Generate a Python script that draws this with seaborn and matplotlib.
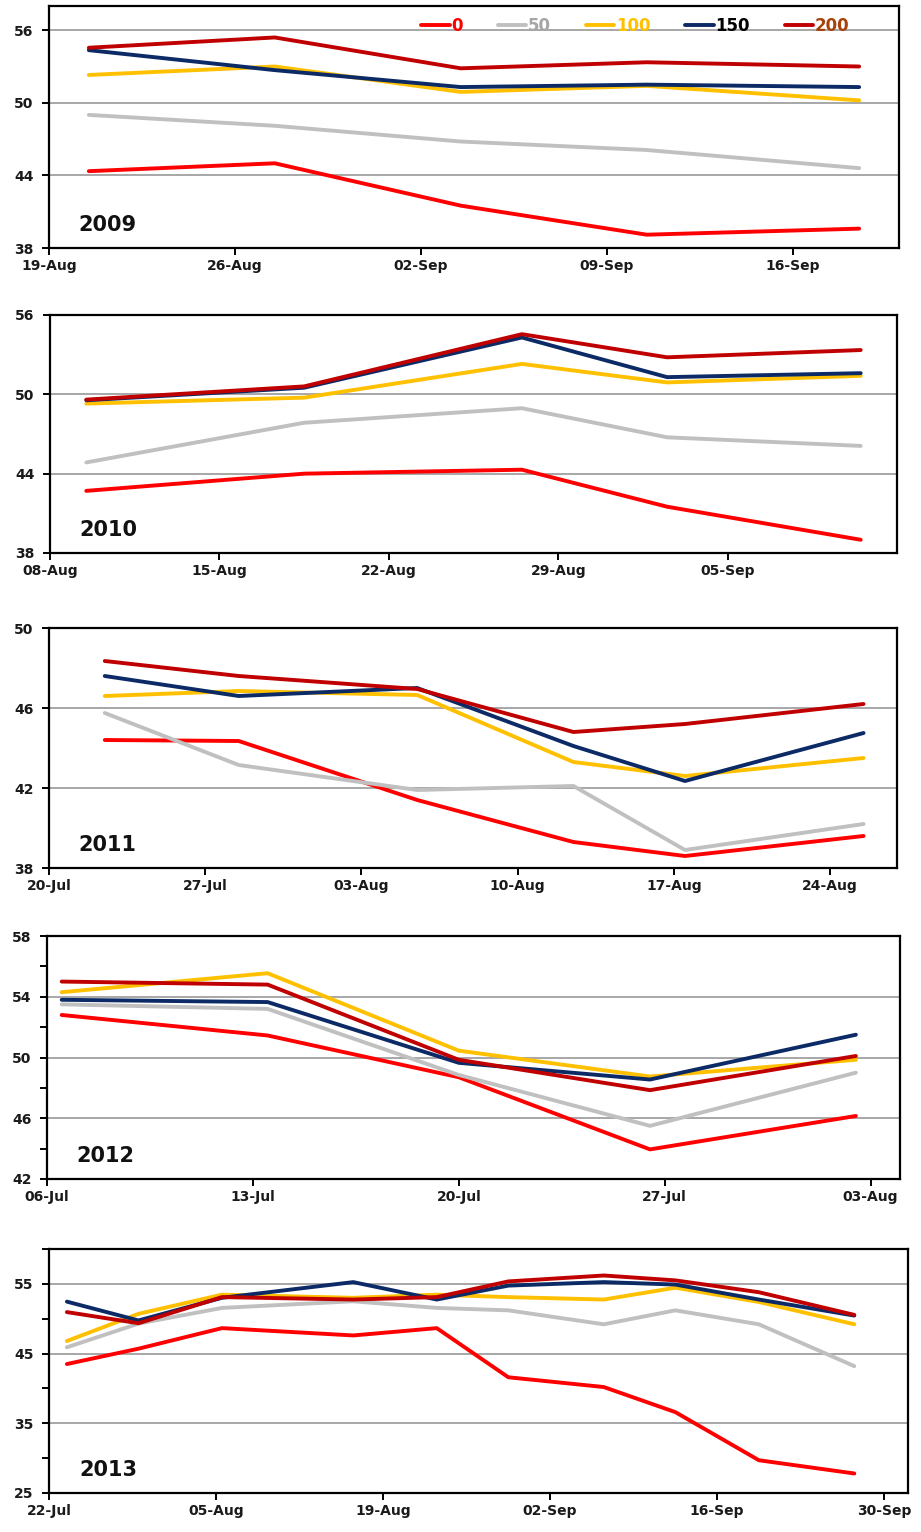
import matplotlib
matplotlib.use("Agg")
import matplotlib.pyplot as plt
import matplotlib.dates as mdates
import seaborn as sns
import pandas as pd
import numpy as np

# ---------------- data ----------------
series_names = ["0", "50", "100", "150", "200"]
line_colors = ["#FF0000", "#C0C0C0", "#FFC000", "#0B2A66", "#C00000"]
legend_text_colors = ["#FF0000", "#A6A6A6", "#FFC000", "#000000", "#A5430A"]

dates_2009 = ["2009-08-20", "2009-08-27", "2009-09-03", "2009-09-10", "2009-09-18"]
s2009_0 = [44.35, 45.0, 41.5, 39.1, 39.6]
s2009_50 = [49.0, 48.1, 46.8, 46.1, 44.6]
s2009_100 = [52.3, 53.0, 50.9, 51.4, 50.2]
s2009_150 = [54.35, 52.7, 51.3, 51.5, 51.3]
s2009_200 = [54.55, 55.4, 52.85, 53.35, 53.0]

dates_2010 = ["2010-08-09", "2010-08-18", "2010-08-27", "2010-09-02", "2010-09-10"]
s2010_0 = [42.7, 44.0, 44.3, 41.5, 39.0]
s2010_50 = [44.85, 47.85, 48.95, 46.75, 46.1]
s2010_100 = [49.3, 49.75, 52.3, 50.9, 51.4]
s2010_150 = [49.55, 50.5, 54.3, 51.3, 51.6]
s2010_200 = [49.6, 50.6, 54.55, 52.8, 53.35]

dates_2011 = ["2011-07-22", "2011-07-28", "2011-08-05", "2011-08-12", "2011-08-17", "2011-08-25"]
s2011_0 = [44.4, 44.35, 41.4, 39.3, 38.6, 39.6]
s2011_50 = [45.75, 43.15, 41.9, 42.1, 38.9, 40.2]
s2011_100 = [46.6, 46.85, 46.65, 43.3, 42.6, 43.5]
s2011_150 = [47.6, 46.6, 47.0, 44.1, 42.35, 44.75]
s2011_200 = [48.35, 47.6, 46.95, 44.8, 45.2, 46.2]

dates_2012 = ["2012-07-06", "2012-07-13", "2012-07-19 12:00", "2012-07-26", "2012-08-02"]
s2012_0 = [52.8, 51.45, 48.7, 43.95, 46.15]
s2012_50 = [53.5, 53.2, 48.85, 45.5, 49.0]
s2012_100 = [54.3, 55.55, 50.45, 48.75, 49.85]
s2012_150 = [53.8, 53.65, 49.65, 48.55, 51.5]
s2012_200 = [55.0, 54.8, 49.85, 47.85, 50.1]

dates_2013 = ["2013-07-23", "2013-07-29", "2013-08-05", "2013-08-16", "2013-08-23",
              "2013-08-29", "2013-09-06", "2013-09-12", "2013-09-19", "2013-09-27"]
s2013_0 = [43.5, 45.7, 48.65, 47.6, 48.65, 41.6, 40.2, 36.6, 29.7, 27.8]
s2013_50 = [45.9, 49.3, 51.55, 52.5, 51.55, 51.2, 49.2, 51.2, 49.2, 43.2]
s2013_100 = [46.8, 50.7, 53.45, 53.0, 53.45, 53.1, 52.75, 54.45, 52.4, 49.2]
s2013_150 = [52.45, 49.75, 53.0, 55.25, 52.75, 54.75, 55.25, 54.9, 52.75, 50.45]
s2013_200 = [50.95, 49.35, 53.1, 52.75, 53.1, 55.35, 56.2, 55.5, 53.8, 50.55]

years = ["2009", "2010", "2011", "2012", "2013"]
x_start = ["2009-08-19", "2010-08-08", "2011-07-20", "2012-07-06", "2013-07-22"]
x_end = ["2009-09-20", "2010-09-12", "2011-08-27", "2012-08-04", "2013-10-02"]
x_last_tick = ["2009-09-16", "2010-09-05", "2011-08-24", "2012-08-03", "2013-09-30"]
x_step_days = [7, 7, 7, 7, 14]
y_lims = [(38, 58), (38, 56), (38, 50), (42, 58), (25, 60)]
y_major = [[38, 44, 50, 56], [38, 44, 50, 56], [38, 42, 46, 50],
           [42, 46, 50, 54, 58], [25, 35, 45, 55]]
y_minor = [[], [], [], [44, 48, 52, 56], [30, 40, 50, 60]]

panel_data = [
    (dates_2009, [s2009_0, s2009_50, s2009_100, s2009_150, s2009_200]),
    (dates_2010, [s2010_0, s2010_50, s2010_100, s2010_150, s2010_200]),
    (dates_2011, [s2011_0, s2011_50, s2011_100, s2011_150, s2011_200]),
    (dates_2012, [s2012_0, s2012_50, s2012_100, s2012_150, s2012_200]),
    (dates_2013, [s2013_0, s2013_50, s2013_100, s2013_150, s2013_200]),
]

# ---------------- layout (pixels) ----------------
W, H = 921, 1532
panel_px = [  # left, right, top, bottom
    (49, 899, 6, 248),
    (50, 897, 315, 553),
    (49, 897, 628, 868),
    (47, 900, 936, 1179),
    (49, 908, 1249, 1493),
]

sns.set_theme(style="ticks")
plt.rcParams["font.family"] = ["DejaVu Sans"]

fig = plt.figure(figsize=(W / 100, H / 100), dpi=100)
palette = dict(zip(series_names, line_colors))

for i, ((dts, vals), (l, r, t, b)) in enumerate(zip(panel_data, panel_px)):
    ax = fig.add_axes([l / W, 1 - b / H, (r - l) / W, (b - t) / H])
    rows = []
    for name, v in zip(series_names, vals):
        for d, y in zip(dts, v):
            rows.append({"date": pd.to_datetime(d) + pd.Timedelta(hours=12),
                         "value": y, "series": name})
    df = pd.DataFrame(rows)
    sns.lineplot(data=df, x="date", y="value", hue="series",
                 hue_order=series_names, palette=palette, linewidth=2.8,
                 legend=False, ax=ax, sort=False, estimator=None)

    x0, x1 = pd.to_datetime(x_start[i]), pd.to_datetime(x_end[i])
    ax.set_xlim(x0, x1)
    ax.set_xticks(pd.date_range(x0, pd.to_datetime(x_last_tick[i]),
                                freq=f"{x_step_days[i]}D"))
    ax.xaxis.set_major_formatter(mdates.DateFormatter("%d-%b"))
    ax.set_ylim(*y_lims[i])
    ax.set_yticks(y_major[i])
    if y_minor[i]:
        ax.set_yticks(y_minor[i], minor=True)
    ax.set_xlabel("")
    ax.set_ylabel("")

    ax.yaxis.grid(True, which="major", color="#A0A0A0", linewidth=1.3)
    ax.set_axisbelow(True)
    for sp in ax.spines.values():
        sp.set_color("black")
        sp.set_linewidth(1.6)
        sp.set_visible(True)
    ax.tick_params(axis="both", which="major", direction="out", length=5,
                   width=1.4, color="black", labelsize=10, pad=3)
    ax.tick_params(axis="y", which="minor", direction="out", length=5,
                   width=1.4, color="black")
    ax.tick_params(axis="y", pad=6)
    for lab in ax.get_xticklabels() + ax.get_yticklabels():
        lab.set_fontweight("bold")
        lab.set_color("#1A1A1A")

    ax.text(0.035, 0.095, years[i], transform=ax.transAxes, fontsize=15,
            fontweight="bold", va="center", ha="left", color="#111111")

    if i == 0:
        handles = ax.get_lines()[:len(series_names)]
        leg = ax.legend(handles, series_names, loc="center",
                        bbox_to_anchor=(0.69, 0.917), ncol=5, frameon=False,
                        handlelength=1.7, handletextpad=0.1, columnspacing=2.1,
                        prop={"weight": "bold", "size": 12}, borderaxespad=0)
        for txt, c in zip(leg.get_texts(), legend_text_colors):
            txt.set_color(c)

fig.savefig("out.png", dpi=100)
